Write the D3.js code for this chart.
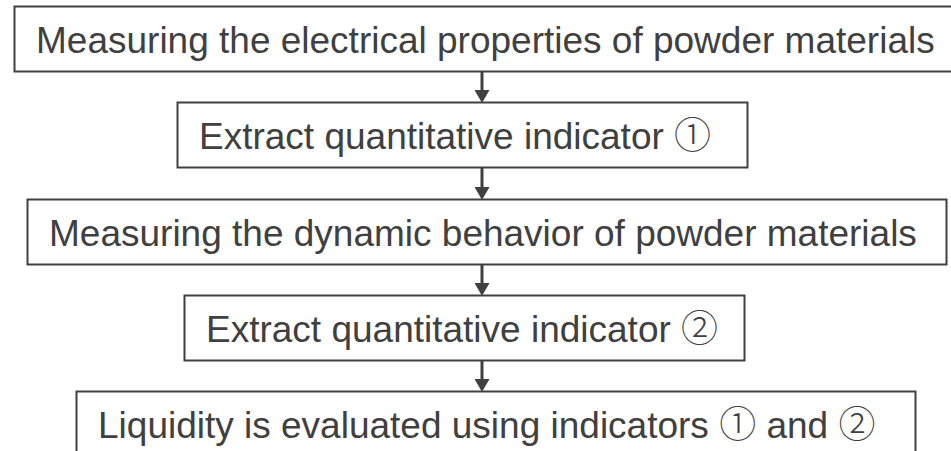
<!DOCTYPE html>
<html>
<head>
<meta charset="utf-8">
<script src="https://cdn.jsdelivr.net/npm/d3@7/dist/d3.min.js"></script>
<style>
body{margin:0;background:#fff;}
</style>
</head>
<body>
<svg id="flow" width="951" height="451"></svg>
<script>
// flowchart steps, top to bottom
var steps = [
  "Measuring the electrical properties of powder materials",
  "Extract quantitative indicator \u2460",
  "Measuring the dynamic behavior of powder materials",
  "Extract quantitative indicator \u2461",
  "Liquidity is evaluated using indicators \u2460 and \u2461"
];
var stepIndex = [0, 1, 2, 3, 4];

// box extents (left, right) in px
var boxLeft  = [14, 177, 27, 184, 76];
var boxRight = [955, 747, 946, 744, 915];

var ink = "#404040";
var svg = d3.select("#flow");

var y = d3.scaleLinear().domain([0, 4]).range([6, 391]);
var boxH = 65;
var arrowX = 482;

var g = svg.selectAll("g.step").data(stepIndex).enter().append("g").attr("class", "step");

g.append("rect")
  .attr("x", function(d){ return boxLeft[d] + 0.5; })
  .attr("y", function(d){ return Math.round(y(d)) + 0.5; })
  .attr("width", function(d){ return boxRight[d] - boxLeft[d]; })
  .attr("height", boxH)
  .attr("fill", "#fff")
  .attr("stroke", ink)
  .attr("stroke-width", 2);

var txt = g.append("text")
  .attr("x", function(d){ return boxLeft[d] + 22; })
  .attr("y", function(d){ return Math.round(y(d)) + 47; })
  .attr("fill", ink)
  .style("font-family", "'Liberation Sans', Arial, sans-serif")
  .style("font-size", "37px");

// split so the circled digits use a CJK font like the original
txt.selectAll("tspan")
  .data(function(d){ return steps[d].split(/([\u2460\u2461])/).filter(function(s){ return s.length; }); })
  .enter().append("tspan")
  .style("font-family", function(s){ return /[\u2460\u2461]/.test(s) ? "'Noto Sans CJK JP', sans-serif" : null; })
  .style("font-weight", function(s){ return /[\u2460\u2461]/.test(s) ? 300 : null; })
  .attr("xml:space", "preserve")
  .text(function(s){ return s; });

// arrows between boxes
var links = d3.pairs(stepIndex);
var a = svg.selectAll("g.arrow").data(links).enter().append("g").attr("class", "arrow");
a.append("line")
  .attr("x1", arrowX).attr("x2", arrowX)
  .attr("y1", function(d){ return Math.round(y(d[0])) + boxH; })
  .attr("y2", function(d){ return Math.round(y(d[1])) - 10; })
  .attr("stroke", ink)
  .attr("stroke-width", 3);
a.append("path")
  .attr("d", function(d){
    var t = Math.round(y(d[1])) + 1;
    return "M" + (arrowX - 7.5) + "," + (t - 13) + "L" + (arrowX + 7.5) + "," + (t - 13) + "L" + arrowX + "," + t + "Z";
  })
  .attr("fill", ink);
</script>
</body>
</html>
